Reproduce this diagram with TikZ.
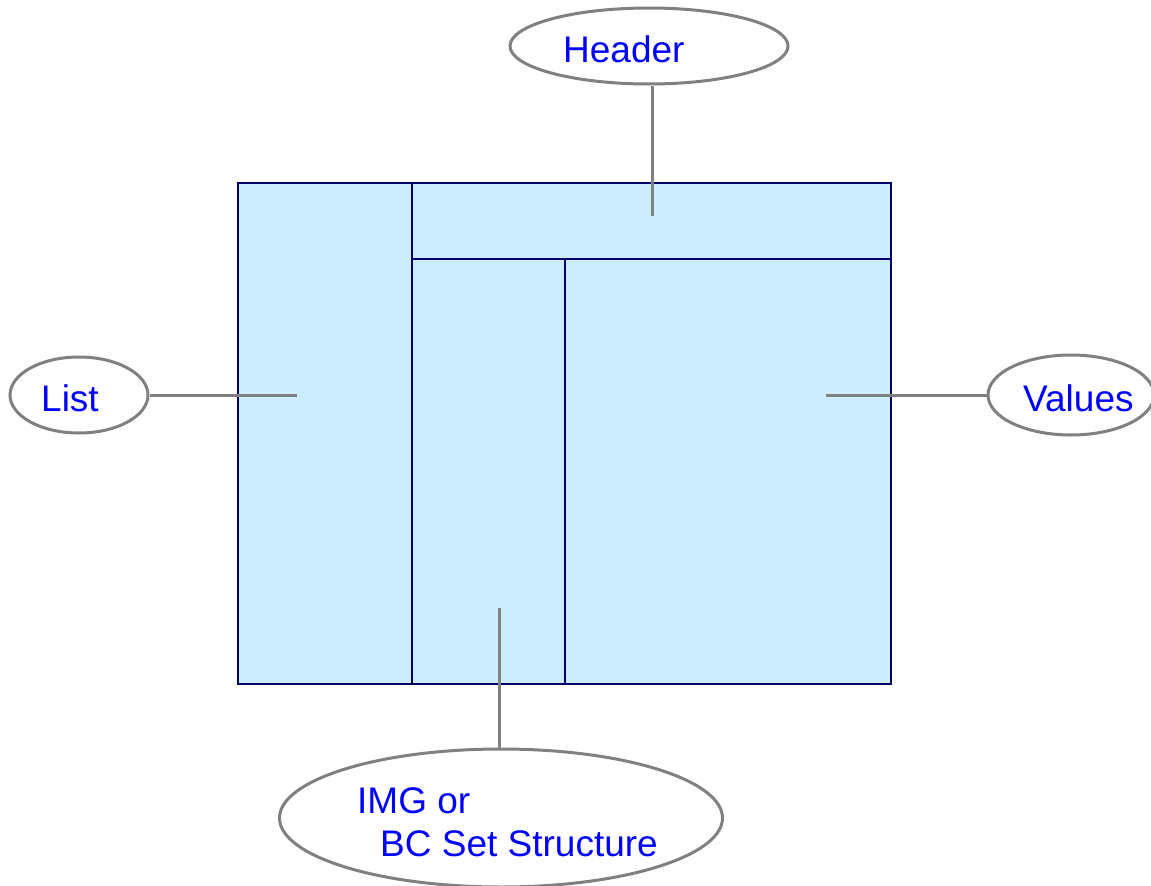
\documentclass[tikz,border=0pt]{standalone}
\usepackage{fontspec}
\setmainfont{Liberation Sans}
\usetikzlibrary{shapes.geometric}
\definecolor{panelfill}{HTML}{CCECFF}
\definecolor{panelline}{HTML}{000066}
\definecolor{callgray}{HTML}{808080}
\definecolor{txtblue}{HTML}{0000FF}
\tikzset{
  callout/.style={ellipse, draw=callgray, line width=3pt, fill=white, inner sep=0pt},
  leader/.style={draw=callgray, line width=3pt},
  panel/.style={draw=panelline, line width=2.8pt},
  lbl/.style={text=txtblue, font=\fontsize{37}{44}\selectfont, anchor=base west, inner sep=0pt}
}
\begin{document}
\begin{tikzpicture}[x=1pt,y=-1pt]
\useasboundingbox (0,0) rectangle (1151,886);
\begin{scope}
\clip (0,0) rectangle (1151,886);
% main panel
\fill[panelfill] (238,183) rectangle (891,684);
\draw[panel] (238,183) rectangle (891,684);
\draw[panel] (412,183) -- (412,684);
\draw[panel] (412,259) -- (891,259);
\draw[panel] (565,259) -- (565,684);
% callouts
\node[callout, minimum width=278pt, minimum height=76pt] (hdr) at (649,46) {};
\node[callout, minimum width=138pt, minimum height=76pt] (lst) at (79,395) {};
\node[callout, minimum width=166pt, minimum height=80pt] (val) at (1071,395) {};
\node[callout, minimum width=443pt, minimum height=138pt] (img) at (501,818) {};
% leader end points
\coordinate (hend) at (652,216);
\coordinate (lend) at (297,395);
\coordinate (vend) at (826,395);
\coordinate (iend) at (499,608);
\draw[leader] (hend) -- (hend |- hdr.south);
\draw[leader] (lst.east) -- (lend);
\draw[leader] (vend) -- (val.west);
\draw[leader] (iend) -- (iend |- img.north);
% labels
\node[lbl] (thdr) at (563,62) {Header};
\node[lbl] (tlst) at (41,411) {List};
\node[lbl] (tval) at (1023,411) {Values};
\node[lbl] (timg1) at (357,813) {IMG or};
\node[lbl] (timg2) at (380,856) {BC Set Structure};
\end{scope}
\end{tikzpicture}
\end{document}
